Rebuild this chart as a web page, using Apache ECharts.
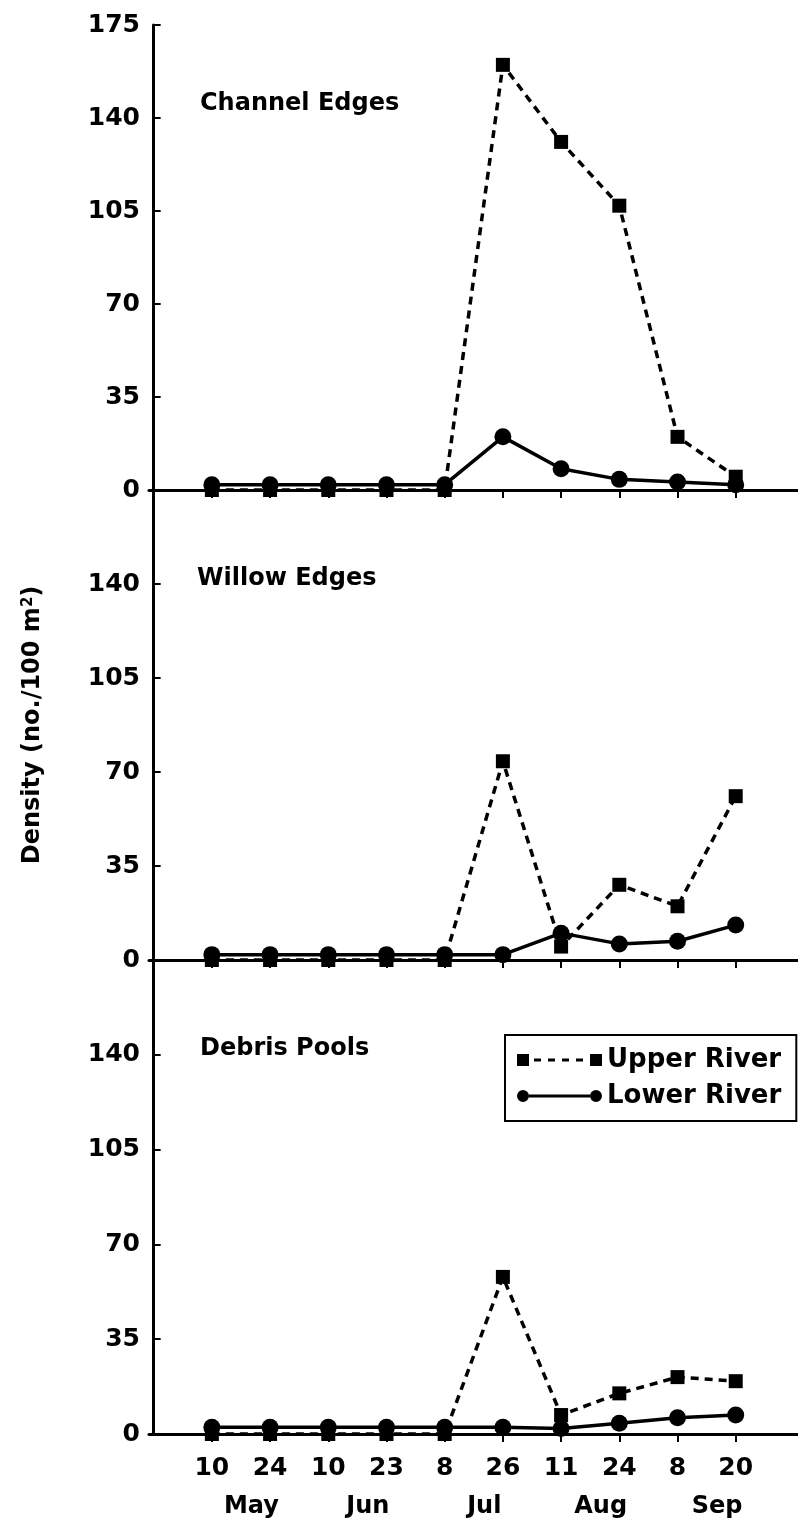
<!DOCTYPE html>
<html>
<head>
<meta charset="utf-8">
<script src="https://cdn.jsdelivr.net/npm/echarts@6/dist/echarts.min.js"></script>
<style>
  html, body { margin: 0; padding: 0; background: #fff; }
  #chart { width: 798px; height: 1525px; }
</style>
</head>
<body>
<div id="chart"></div>
<script>
// sampling dates (day of month) and the months they fall in
const dates = ['10', '24', '10', '23', '8', '26', '11', '24', '8', '20'];
const months = ['May', 'Jun', 'Jul', 'Aug', 'Sep'];
const yTicks = [0, 35, 70, 105, 140, 175];

const panelTitles = ['Channel Edges', 'Willow Edges', 'Debris Pools'];

// density (no./100 m2)
const channelUpper = [0, 0, 0, 0, 0, 160, 131, 107, 20, 5];
const channelLower = [2, 2, 2, 2, 2, 20, 8, 4, 3, 2];
const willowUpper = [0, 0, 0, 0, 0, 74, 5, 28, 20, 61];
const willowLower = [2, 2, 2, 2, 2, 2, 10, 6, 7, 13];
const debrisUpper = [0, 0, 0, 0, 0, 58, 7, 15, 21, 19.5];
const debrisLower = [2.5, 2.5, 2.5, 2.5, 2.5, 2.5, 2, 4, 6, 7];

const upperSets = [channelUpper, willowUpper, debrisUpper];
const lowerSets = [channelLower, willowLower, debrisLower];

const FONT = 'DejaVu Sans';
const dateIdx = dates.map((d, i) => i + 1);
const monthIdx = months.map((m, i) => 2 * i + 1.68);

const chart = echarts.init(document.getElementById('chart'));

const grids = [
  { left: 149, right: 0, top: 25, height: 465 },
  { left: 149, right: 0, top: 490, height: 470 },
  { left: 149, right: 0, top: 960, height: 474 }
];

const xAxes = grids.map((g, i) => ({
  type: 'value',
  gridIndex: i,
  min: -0.08,
  max: 11.07,
  splitLine: { show: false },
  axisLine: { lineStyle: { color: '#000', width: 3 } },
  axisTick: { show: true, customValues: dateIdx, length: 8, lineStyle: { color: '#000', width: 2 } },
  axisLabel: {
    show: i === 2,
    customValues: dateIdx,
    margin: 22,
    color: '#000',
    fontFamily: FONT,
    fontWeight: 'bold',
    fontSize: 25,
    formatter: v => dates[Math.round(v) - 1]
  }
}));
// month row under the bottom panel
xAxes.push({
  type: 'value',
  gridIndex: 2,
  position: 'bottom',
  min: -0.08,
  max: 11.07,
  splitLine: { show: false },
  axisLine: { show: false },
  axisTick: { show: false },
  axisLabel: {
    customValues: monthIdx,
    margin: 61,
    color: '#000',
    fontFamily: FONT,
    fontWeight: 'bold',
    fontSize: 24,
    formatter: v => months[Math.floor((v - 1) / 2)]
  }
});

const yAxes = grids.map((g, i) => ({
  type: 'value',
  gridIndex: i,
  min: 0,
  max: 175,
  interval: 35,
  splitLine: { show: false },
  axisLine: { lineStyle: { color: '#000', width: 3 } },
  axisTick: { inside: true, length: 7, lineStyle: { color: '#000', width: 2 } },
  axisLabel: {
    customValues: i === 0 ? yTicks : yTicks.slice(0, 5),
    margin: 9,
    color: '#000',
    fontFamily: FONT,
    fontWeight: 'bold',
    fontSize: 25
  },
  name: i === 1 ? 'Density (no./100 m{sup|2})' : '',
  nameLocation: 'middle',
  nameRotate: 90,
  nameGap: 104,
  nameTextStyle: {
    color: '#000',
    fontFamily: FONT,
    fontWeight: 'bold',
    fontSize: 24,
    rich: {
      sup: { fontFamily: FONT, fontWeight: 'bold', fontSize: 15, verticalAlign: 'top', color: '#000' }
    }
  }
}));

const series = [];
upperSets.forEach((vals, i) => {
  series.push({
    name: 'Upper River',
    type: 'line',
    xAxisIndex: i,
    yAxisIndex: i,
    data: vals.map((v, k) => [k + 1, v]),
    symbol: 'rect',
    symbolSize: 14,
    lineStyle: { color: '#000', width: 3.5, type: [8, 6] },
    itemStyle: { color: '#000' },
    z: 3
  });
});
lowerSets.forEach((vals, i) => {
  series.push({
    name: 'Lower River',
    type: 'line',
    xAxisIndex: i,
    yAxisIndex: i,
    data: vals.map((v, k) => [k + 1, v]),
    symbol: 'circle',
    symbolSize: 17,
    lineStyle: { color: '#000', width: 3.5 },
    itemStyle: { color: '#000' },
    z: 4
  });
});

// legend icons: marker - line - marker
const upperIcon = 'path://M0,0h12v12h-12z M17,4.5h7v3h-7z M31,4.5h7v3h-7z M45,4.5h7v3h-7z M59,4.5h7v3h-7z M73,0h12v12h-12z';
const lowerIcon = 'path://M0,6a6,6 0 1,0 12,0a6,6 0 1,0 -12,0z M12,4.5h61v3h-61z M73,6a6,6 0 1,0 12,0a6,6 0 1,0 -12,0z';

const option = {
  animation: false,
  backgroundColor: '#fff',
  title: panelTitles.map((t, i) => ({
    text: t,
    left: [200, 197, 200][i],
    top: [92, 567, 1037][i],
    padding: 0,
    textStyle: { color: '#000', fontFamily: FONT, fontWeight: 'bold', fontSize: 24 }
  })),
  legend: {
    orient: 'vertical',
    left: 505,
    top: 1035,
    padding: [12, 15, 12, 12],
    itemGap: 10,
    itemWidth: 85,
    itemHeight: 12,
    borderColor: '#000',
    borderWidth: 2,
    backgroundColor: '#fff',
    selectedMode: false,
    textStyle: { color: '#000', fontFamily: FONT, fontWeight: 'bold', fontSize: 26 },
    data: [
      { name: 'Upper River', icon: upperIcon },
      { name: 'Lower River', icon: lowerIcon }
    ]
  },
  grid: grids,
  xAxis: xAxes,
  yAxis: yAxes,
  series: series
};

chart.setOption(option);
</script>
</body>
</html>
